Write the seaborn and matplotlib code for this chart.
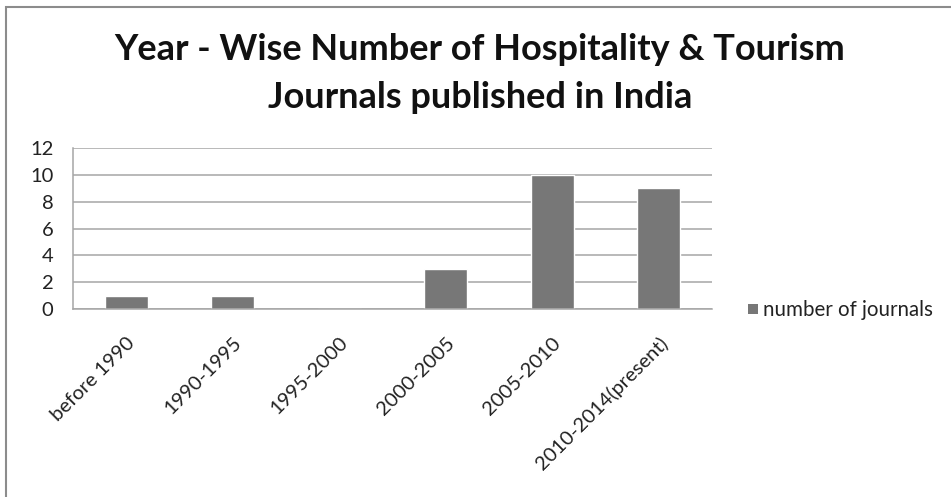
import matplotlib
matplotlib.use("Agg")
import matplotlib.pyplot as plt
from matplotlib.patches import Rectangle
import seaborn as sns
import pandas as pd

periods = ["before 1990", "1990-1995", "1995-2000", "2000-2005", "2005-2010", "2010-2014(present)"]
journals = [1, 1, 0, 3, 10, 9]
series_name = "number of journals"
y_ticks = [0, 2, 4, 6, 8, 10, 12]

df = pd.DataFrame({"period": periods, "count": journals, "series": series_name})

sns.set_theme(style="white")
plt.rcParams["font.family"] = ["Lato", "DejaVu Sans"]

W, H = 951, 497
fig = plt.figure(figsize=(W / 100, H / 100), dpi=100)
ax = fig.add_axes([73 / W, 1 - 309 / H, (712 - 73) / W, (309 - 148) / H])

bar_color = "#777777"
text_color = "#222222"
sns.barplot(data=df, x="period", y="count", hue="series", palette=[bar_color],
            width=0.4, ax=ax, saturation=1, legend=False)

ax.set_ylim(0, 12)
ax.set_xlim(-0.5, len(periods) - 0.5)
ax.set_yticks(y_ticks)
ax.set_yticklabels([str(t) for t in y_ticks], fontsize=14.5, color=text_color)
ax.tick_params(axis="y", length=0, pad=14)
ax.tick_params(axis="x", length=0, pad=18)
ax.set_xticks(range(len(periods)))
ax.set_xticklabels(periods, rotation=45, ha="right", rotation_mode="anchor",
                   fontsize=14.5, color=text_color)
ax.set_xlabel("")
ax.set_ylabel("")
ax.yaxis.grid(True, color="#a6a6a6", linewidth=1.1)
ax.set_axisbelow(True)
for side in ["top", "right"]:
    ax.spines[side].set_visible(False)
for side in ["left", "bottom"]:
    ax.spines[side].set_color("#a6a6a6")
    ax.spines[side].set_linewidth(1.1)

# Legend entry to the right of the plot area
fig.patches.append(Rectangle((748 / W, 1 - 314 / H), 10 / W, 10 / H,
                             transform=fig.transFigure, facecolor=bar_color,
                             edgecolor="none"))
fig.text(763 / W, 1 - 310 / H, series_name, fontsize=14.8, color=text_color,
         va="center", ha="left")

# Two-line title
fig.text(480 / W, 1 - 50 / H, "Year - Wise Number of Hospitality & Tourism",
         fontsize=26, fontweight="bold", ha="center", va="center", color="#111111")
fig.text(480 / W, 1 - 98 / H, "Journals published in India",
         fontsize=26, fontweight="bold", ha="center", va="center", color="#111111")

# Chart frame
fig.patches.append(Rectangle((5.5 / W, -0.1), 1.2, 1 - 6.5 / H + 0.1,
                             transform=fig.transFigure, facecolor="none",
                             edgecolor="#8c8c8c", linewidth=1.5))

fig.savefig("out.png", dpi=100)
